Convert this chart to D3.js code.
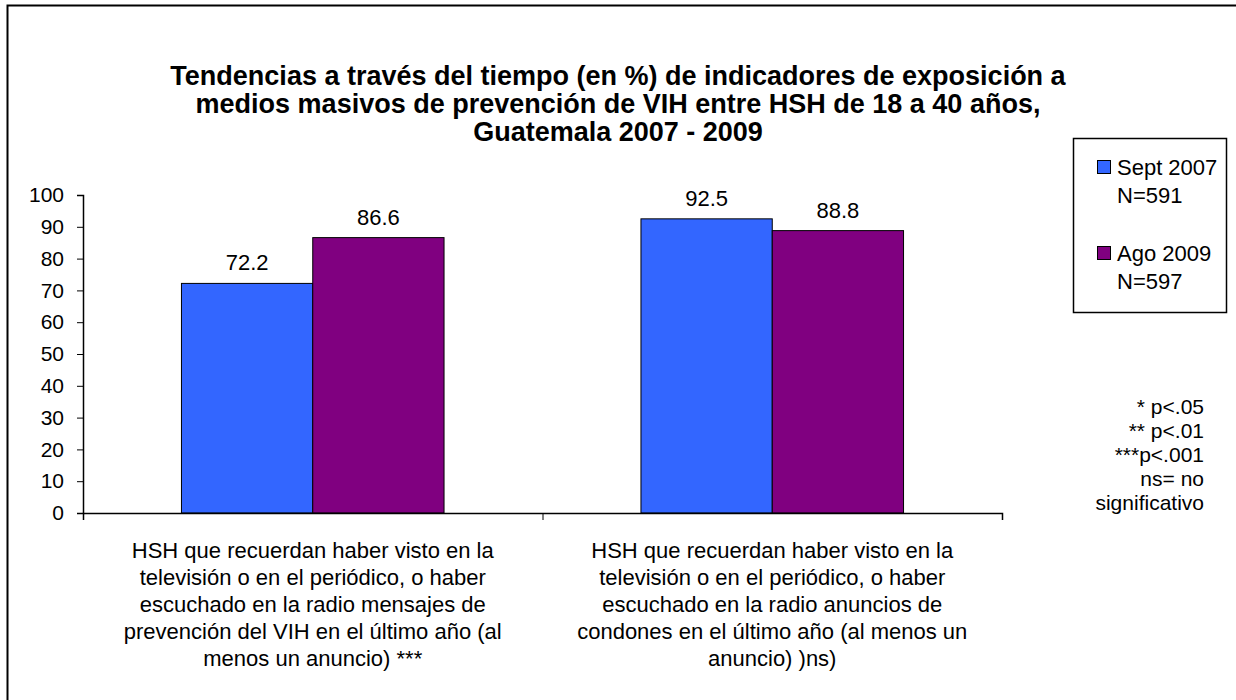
<!DOCTYPE html>
<html>
<head>
<meta charset="utf-8">
<script src="https://cdn.jsdelivr.net/npm/d3@7"></script>
<style>
  body { margin: 0; background: #fff; }
  text { font-family: "Liberation Sans", Arial, sans-serif; fill: #000; }
</style>
</head>
<body>
<div class="chart"></div>
<script>
const titleLines = [
    "Tendencias a través del tiempo (en %) de indicadores de exposición a",
    "medios masivos de prevención de VIH entre HSH de 18 a 40 años,",
    "Guatemala 2007 - 2009"
];
const categories = [
    ["HSH que recuerdan haber visto en la", "televisión o en el periódico, o haber", "escuchado en la radio mensajes de", "prevención del VIH en el último año (al", "menos un anuncio) ***"],
    ["HSH que recuerdan haber visto en la", "televisión o en el periódico, o haber", "escuchado en la radio anuncios de", "condones en el último año (al menos un", "anuncio) )ns)"]
];
const seriesNames = [["Sept 2007", "N=591"], ["Ago 2009", "N=597"]];
const seriesColors = ["#3366FF", "#800080"];
const sept2007 = [72.2, 92.5];
const ago2009 = [86.6, 88.8];
const yTicks = [0, 10, 20, 30, 40, 50, 60, 70, 80, 90, 100];
const notes = ["* p<.05", "** p<.01", "***p<.001", "ns= no", "significativo"];

const W = 1236, H = 700;
const margin = { top: 195, left: 83, right: 234, bottom: 187 };
const width = W - margin.left - margin.right,
      height = H - margin.top - margin.bottom;

const svg = d3.select(".chart")
    .append("svg")
    .attr("width", W)
    .attr("height", H);

// outer frame
svg.append("rect")
    .attr("x", 7.5).attr("y", 5.5)
    .attr("width", 1240).attr("height", 700)
    .attr("fill", "none").attr("stroke", "#000").attr("stroke-width", 2);

// title
svg.append("g").selectAll("text")
    .data(titleLines)
    .enter().append("text")
    .attr("x", 618)
    .attr("y", (d, i) => 85 + i * 28)
    .attr("text-anchor", "middle")
    .style("font-size", "27px")
    .style("font-weight", "bold")
    .text(d => d);

const g = svg.append("g")
    .attr("transform", "translate(" + margin.left + "," + margin.top + ")");

const x0 = d3.scaleBand()
    .domain(d3.range(categories.length))
    .range([0, width])
    .paddingInner(0)
    .paddingOuter(0);

const x1 = d3.scaleBand()
    .domain([0, 1])
    .range([0, x0.bandwidth()])
    .paddingInner(0)
    .paddingOuter(0.75);

const y = d3.scaleLinear()
    .domain([0, 100])
    .range([height, 0]);

// y axis
const yAxis = g.append("g")
    .call(d3.axisLeft(y).tickValues(yTicks).tickSize(6).tickPadding(13));
yAxis.selectAll("text").style("font-size", "21px");
yAxis.select(".domain").attr("stroke", "#000").attr("stroke-width", 1.5);

// bars
const data = categories.map((c, i) => [sept2007[i], ago2009[i]]);
const groups = g.selectAll(".grp")
    .data(data)
    .enter().append("g")
    .attr("class", "grp")
    .attr("transform", (d, i) => "translate(" + x0(i) + ",0)");

groups.selectAll("rect")
    .data(d => d)
    .enter().append("rect")
    .attr("x", (d, j) => x1(j))
    .attr("y", d => y(d))
    .attr("width", x1.bandwidth())
    .attr("height", d => y(0) - y(d))
    .attr("fill", (d, j) => seriesColors[j])
    .attr("stroke", "#000")
    .attr("stroke-width", 1);

groups.selectAll(".lbl")
    .data(d => d)
    .enter().append("text")
    .attr("class", "lbl")
    .attr("x", (d, j) => x1(j) + x1.bandwidth() / 2)
    .attr("y", d => y(d) - 13)
    .attr("text-anchor", "middle")
    .style("font-size", "22px")
    .text(d => d.toFixed(1));

// x axis
const xAxis = g.append("g")
    .attr("transform", "translate(0," + height + ")")
    .call(d3.axisBottom(d3.scaleLinear().domain([0, 2]).range([0, width]))
        .tickValues([0, 1, 2]).tickSize(7).tickFormat(""));
xAxis.select(".domain").attr("stroke", "#000").attr("stroke-width", 1.5);

// category labels
g.selectAll(".cat")
    .data(categories)
    .enter().append("text")
    .attr("class", "cat")
    .attr("text-anchor", "middle")
    .style("font-size", "22px")
    .each(function(lines, i) {
        d3.select(this).selectAll("tspan")
            .data(lines)
            .enter().append("tspan")
            .attr("x", x0(i) + x0.bandwidth() / 2)
            .attr("y", (d, k) => height + 45 + k * 27)
            .text(d => d);
    });

// legend
const legend = svg.append("g");
legend.append("rect")
    .attr("x", 1073.5).attr("y", 138.5)
    .attr("width", 153).attr("height", 174)
    .attr("fill", "#fff").attr("stroke", "#000").attr("stroke-width", 1.5);

seriesNames.forEach((s, i) => {
    const mid = 167 + i * 86;
    legend.append("rect")
        .attr("x", 1097.5).attr("y", mid - 6.5)
        .attr("width", 13).attr("height", 13)
        .attr("fill", seriesColors[i]).attr("stroke", "#000");
    legend.append("text")
        .attr("x", 1117).attr("y", mid + 8)
        .style("font-size", "22px")
        .text(s[0]);
    legend.append("text")
        .attr("x", 1117).attr("y", mid + 36)
        .style("font-size", "22px")
        .text(s[1]);
});

// significance notes
svg.append("g").selectAll("text")
    .data(notes)
    .enter().append("text")
    .attr("x", 1204)
    .attr("y", (d, i) => 414 + i * 24)
    .attr("text-anchor", "end")
    .style("font-size", "21px")
    .text(d => d);
</script>
</body>
</html>
